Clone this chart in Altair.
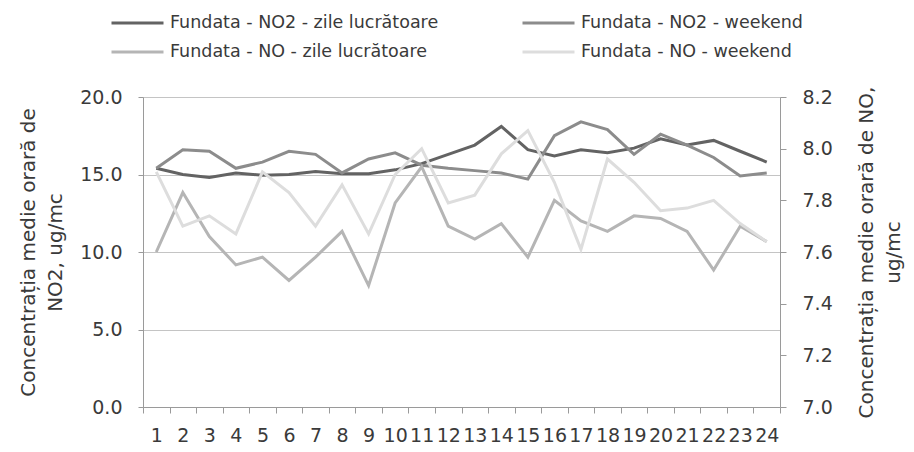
import altair as alt
import pandas as pd

# ---- data ----
hours = list(range(1, 25))
# legend is laid out column by column: col 1 = "zile lucrătoare", col 2 = "weekend"
series_names = [
    "Fundata - NO2 - zile lucrătoare",
    "Fundata - NO - zile lucrătoare",
    "Fundata - NO2 - weekend",
    "Fundata - NO - weekend",
]
no2_lucratoare = [15.4, 15.0, 14.8, 15.1, 14.95, 15.0, 15.2, 15.05, 15.05, 15.3, 15.7, 16.3,
                  16.9, 18.1, 16.6, 16.2, 16.6, 16.4, 16.7, 17.3, 16.9, 17.2, 16.5, 15.8]
no2_weekend = [15.4, 16.6, 16.5, 15.4, 15.8, 16.5, 16.3, 15.1, 16.0, 16.4, 15.6, 15.4,
               15.25, 15.1, 14.7, 17.5, 18.4, 17.9, 16.3, 17.6, 16.9, 16.1, 14.9, 15.1]
no_lucratoare = [7.60, 7.83, 7.66, 7.55, 7.58, 7.49, 7.58, 7.68, 7.47, 7.79, 7.93, 7.70,
                 7.65, 7.71, 7.58, 7.80, 7.72, 7.68, 7.74, 7.73, 7.68, 7.53, 7.70, 7.64]
no_weekend = [7.91, 7.70, 7.74, 7.67, 7.91, 7.83, 7.70, 7.86, 7.67, 7.90, 8.00, 7.79,
              7.82, 7.98, 8.07, 7.87, 7.61, 7.96, 7.87, 7.76, 7.77, 7.80, 7.71, 7.64]

left_ticks = [0, 5, 10, 15, 20]
right_ticks = [7.0, 7.2, 7.4, 7.6, 7.8, 8.0, 8.2]
colors = ["#636363", "#b5b5b5", "#8c8c8c", "#dddddd"]

left_title = ["Concentrația medie orară de", "NO2, ug/mc"]
right_title = ["Concentrația medie orară de NO,", "ug/mc"]

FONT = "DejaVu Sans"
TXT = "#3a3a3a"
AX = "#9a9a9a"

# x axis: labels at integer hours, tick marks between hours (Excel-like)
x_axis_values = [k / 2 for k in range(1, 50)]

df_no2 = pd.DataFrame({
    "hour": hours * 2,
    "value": no2_lucratoare + no2_weekend,
    "series": [series_names[0]] * 24 + [series_names[2]] * 24,
})
df_no = pd.DataFrame({
    "hour": hours * 2,
    "value": no_lucratoare + no_weekend,
    "series": [series_names[1]] * 24 + [series_names[3]] * 24,
})

legend = alt.Legend(
    orient="none", legendX=-33, legendY=-84, columns=2, title=None,
    symbolType="stroke", symbolSize=2704, symbolStrokeWidth=3, clipHeight=20,
    rowPadding=9, columnPadding=82, labelFont=FONT, labelFontSize=17.5,
    labelColor=TXT, labelOffset=5, padding=0, labelLimit=600,
)
color = alt.Color("series:N", scale=alt.Scale(domain=series_names, range=colors),
                  legend=legend, sort=series_names)

x_enc = alt.X(
    "hour:Q",
    scale=alt.Scale(domain=[0.5, 24.5], nice=False, zero=False),
    axis=alt.Axis(
        values=x_axis_values, title=None, grid=False,
        labelExpr="datum.value % 1 == 0 ? format(datum.value, 'd') : ''",
        labelOverlap=False, labelFlush=False, labelBound=False,
        labelFont=FONT, labelFontSize=19, labelColor=TXT, labelPadding=13,
        tickSize=6, tickColor=AX,
        tickOpacity={"condition": {"test": "datum.value % 1 == 0", "value": 0}, "value": 1},
        domainColor=AX,
    ),
)

no2_layer = alt.Chart(df_no2).mark_line(strokeWidth=3).encode(
    x=x_enc,
    y=alt.Y(
        "value:Q",
        scale=alt.Scale(domain=[0, 20], nice=False),
        axis=alt.Axis(
            values=left_ticks, format=".1f", grid=True, gridColor="#c4c4c4",
            tickSize=5, tickColor=AX, domainColor=AX,
            labelFont=FONT, labelFontSize=19, labelColor=TXT, labelPadding=16,
            title=left_title, titleFont=FONT, titleFontSize=20, titleColor=TXT,
            titleFontWeight="normal", titleAngle=270, titleBaseline="middle",
            titleAlign="center", titleLineHeight=27, titleX=-115, titleY=155,
        ),
    ),
    color=color,
)

no_layer = alt.Chart(df_no).mark_line(strokeWidth=3).encode(
    x=x_enc,
    y=alt.Y(
        "value:Q",
        scale=alt.Scale(domain=[7.0, 8.2], nice=False, zero=False),
        axis=alt.Axis(
            orient="right", values=right_ticks, format=".1f", grid=False,
            tickSize=6, tickColor=AX, domainColor=AX,
            labelFont=FONT, labelFontSize=19, labelColor=TXT, labelPadding=16,
            title=right_title, titleFont=FONT, titleFontSize=20, titleColor=TXT,
            titleFontWeight="normal", titleAngle=270, titleBaseline="middle",
            titleAlign="center", titleLineHeight=27, titleX=86, titleY=155,
        ),
    ),
    color=color,
)

chart = (
    alt.layer(no2_layer, no_layer)
    .resolve_scale(y="independent")
    .properties(
        width=637, height=310, autosize="none",
        padding={"left": 135, "top": 89, "right": 126, "bottom": 37},
    )
    .configure_view(stroke=None)
    .configure(background="white")
)

chart.save("out.html", embed_options={"renderer": "svg", "actions": False})
